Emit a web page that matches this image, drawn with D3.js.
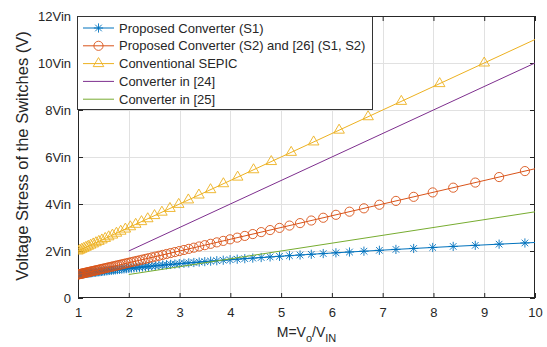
<!DOCTYPE html>
<html><head><meta charset="utf-8">
<script src="https://cdn.jsdelivr.net/npm/d3@7"></script>
<style>
body{margin:0;background:#fff}
svg{display:block}
text{font-family:Arial,"Liberation Sans",Helvetica,sans-serif;fill:#262626}
</style>
</head><body>
<svg id="c" width="547" height="347"></svg>
<script>
// ---------- data ----------
const mSamples = [1.0000,1.0175,1.0354,1.0538,1.0727,1.0921,1.1120,1.1325,1.1535,1.1752,
  1.1974,1.2203,1.2439,1.2681,1.2931,1.3188,1.3453,1.3726,1.4007,1.4298,
  1.4597,1.4905,1.5224,1.5553,1.5892,1.6243,1.6606,1.6981,1.7369,1.7770,
  1.8185,1.8615,1.9061,1.9522,2.0001,2.0497,2.1013,2.1547,2.2103,2.2680,
  2.3280,2.3905,2.4554,2.5231,2.5936,2.6671,2.7437,2.8237,2.9073,2.9947,
  3.0860,3.1815,3.2816,3.3865,3.4965,3.6119,3.7332,3.8606,3.9947,4.1359,
  4.2847,4.4418,4.6076,4.7828,4.9683,5.1647,5.3731,5.5942,5.8294,6.0797,
  6.3464,6.6311,6.9354,7.2612,7.6104,7.9854,8.3890,8.8238,9.2933,9.8014];
const s1Values = [1.000,1.005,1.011,1.017,1.022,1.028,1.034,1.040,1.047,1.053,
  1.059,1.066,1.073,1.079,1.086,1.093,1.101,1.108,1.116,1.123,
  1.131,1.139,1.147,1.156,1.164,1.173,1.182,1.191,1.200,1.210,
  1.220,1.230,1.240,1.250,1.261,1.272,1.283,1.295,1.307,1.319,
  1.331,1.344,1.357,1.371,1.385,1.399,1.414,1.429,1.444,1.460,
  1.477,1.494,1.511,1.529,1.548,1.567,1.587,1.608,1.629,1.651,
  1.674,1.698,1.722,1.748,1.774,1.802,1.830,1.860,1.891,1.923,
  1.957,1.992,2.029,2.068,2.108,2.150,2.195,2.241,2.291,2.342];
const s2Values = [1.000,1.009,1.018,1.027,1.036,1.046,1.056,1.066,1.077,1.088,
  1.099,1.110,1.122,1.134,1.147,1.159,1.173,1.186,1.200,1.215,
  1.230,1.245,1.261,1.278,1.295,1.312,1.330,1.349,1.368,1.389,
  1.409,1.431,1.453,1.476,1.500,1.525,1.551,1.577,1.605,1.634,
  1.664,1.695,1.728,1.762,1.797,1.834,1.872,1.912,1.954,1.997,
  2.043,2.091,2.141,2.193,2.248,2.306,2.367,2.430,2.497,2.568,
  2.642,2.721,2.804,2.891,2.984,3.082,3.187,3.297,3.415,3.540,
  3.673,3.816,3.968,4.131,4.305,4.493,4.695,4.912,5.147,5.401];
const sepicM = [1.0000,1.0360,1.0740,1.1142,1.1566,1.2016,1.2491,1.2996,1.3532,1.4102,
  1.4708,1.5354,1.6044,1.6782,1.7572,1.8418,1.9328,2.0306,2.1361,2.2500,
  2.3733,2.5069,2.6522,2.8106,2.9835,3.1729,3.3809,3.6100,3.8633,4.1441,
  4.4568,4.8062,5.1984,5.6406,6.1418,6.7128,7.3673,8.1225,9.0000];
const sepicValues = [2.000,2.036,2.074,2.114,2.157,2.202,2.249,2.300,2.353,2.410,
  2.471,2.535,2.604,2.678,2.757,2.842,2.933,3.031,3.136,3.250,
  3.373,3.507,3.652,3.811,3.984,4.173,4.381,4.610,4.863,5.144,
  5.457,5.806,6.198,6.641,7.142,7.713,8.367,9.123,10.000];
const lineEndM = [1, 10];
const s1EndValue = 2.362;
const s2LineValues = [1, 5.5];
const sepicLineValues = [2, 11];
const ref24M = [2, 10];
const ref24Values = [2, 10];
const ref25M = [2, 10];
const ref25Values = [1, 3.667];
const xTicks = [1,2,3,4,5,6,7,8,9,10];
const yTicks = [0,2,4,6,8,10,12];
const yTickLabels = ["0","2Vin","4Vin","6Vin","8Vin","10Vin","12Vin"];
const legendLabels = ["Proposed Converter (S1)","Proposed Converter (S2) and [26] (S1, S2)",
  "Conventional SEPIC","Converter in [24]","Converter in [25]"];
const colors = ["#0072BD","#D95319","#EDB120","#7E2F8E","#77AC30"];
const markers = ["star","circle","triangle",null,null];

// ---------- layout ----------
const L = 78, R = 535, T = 16, B = 298;
const svg = d3.select("#c");
const x = d3.scaleLinear().domain([1,10]).range([L,R]);
const y = d3.scaleLinear().domain([0,12]).range([B,T]);

// grid
const grid = svg.append("g").attr("stroke","#e1e1e1").attr("stroke-width",1);
grid.selectAll("line.gx").data(xTicks.slice(1,-1)).join("line")
  .attr("x1",d=>Math.round(x(d))+0.5).attr("x2",d=>Math.round(x(d))+0.5).attr("y1",T).attr("y2",B);
grid.selectAll("line.gy").data(yTicks.slice(1,-1)).join("line")
  .attr("y1",d=>Math.round(y(d))+0.5).attr("y2",d=>Math.round(y(d))+0.5).attr("x1",L).attr("x2",R);

// axes
const fmtY = d=>yTickLabels[yTicks.indexOf(d)];
const ax = svg.append("g").attr("transform",`translate(0,${B})`)
  .call(d3.axisBottom(x).tickValues(xTicks).tickSize(-5).tickPadding(10).tickFormat(d3.format("d")));
const ay = svg.append("g").attr("transform",`translate(${L},0)`)
  .call(d3.axisLeft(y).tickValues(yTicks).tickSize(-5).tickPadding(7).tickFormat(fmtY));
const axT = svg.append("g").attr("transform",`translate(0,${T})`)
  .call(d3.axisTop(x).tickValues(xTicks).tickSize(-5).tickFormat(""));
const ayR = svg.append("g").attr("transform",`translate(${R},0)`)
  .call(d3.axisRight(y).tickValues(yTicks).tickSize(-5).tickFormat(""));
[ax,ay,axT,ayR].forEach(g=>{
  g.select(".domain").remove();
  g.selectAll(".tick line").attr("stroke","#262626");
  g.selectAll("text").attr("font-size",13).attr("fill","#262626").attr("font-family",null);
});
svg.append("rect").attr("x",L+0.5).attr("y",T+0.5).attr("width",R-L-1).attr("height",B-T-1)
  .attr("fill","none").attr("stroke","#262626").attr("stroke-width",1);

// clip
svg.append("clipPath").attr("id","clip").append("rect").attr("x",L).attr("y",T).attr("width",R-L).attr("height",B-T);
const plot = svg.append("g").attr("clip-path","url(#clip)");

const markerPath = {
  star: "M-4.6,0L4.6,0M0,-4.6L0,4.6M-3.3,-3.3L3.3,3.3M-3.3,3.3L3.3,-3.3",
  circle: d3.symbol(d3.symbolCircle, 66)(),
  triangle: "M0,-6L5.3,3L-5.3,3Z"
};
const line = d3.line().x(d=>x(d[0])).y(d=>y(d[1]));

const series = [
  {line: mSamples.map((m,i)=>[m,s1Values[i]]).concat([[lineEndM[1], s1EndValue]]),
   pts: mSamples.map((m,i)=>[m,s1Values[i]])},
  {line: lineEndM.map((m,i)=>[m,s2LineValues[i]]), pts: mSamples.map((m,i)=>[m,s2Values[i]])},
  {line: lineEndM.map((m,i)=>[m,sepicLineValues[i]]), pts: sepicM.map((m,i)=>[m,sepicValues[i]])},
  {line: ref24M.map((m,i)=>[m,ref24Values[i]]), pts: []},
  {line: ref25M.map((m,i)=>[m,ref25Values[i]]), pts: []}
];
series.forEach((s,k)=>{
  const g = plot.append("g");
  g.append("path").attr("d",line(s.line)).attr("fill","none").attr("stroke",colors[k]).attr("stroke-width",1);
  if (markers[k]) {
    g.selectAll("path.m").data(s.pts).join("path").attr("class","m")
      .attr("transform",d=>`translate(${x(d[0])},${y(d[1])})`)
      .attr("d",markerPath[markers[k]]).attr("fill","none")
      .attr("stroke",colors[k]).attr("stroke-width",0.9);
  }
});

// legend
const lg = svg.append("g");
lg.append("rect").attr("x",77.5).attr("y",16.5).attr("width",295).attr("height",93)
  .attr("fill","#fff").attr("stroke","#333").attr("stroke-width",1);
legendLabels.forEach((lab,k)=>{
  const cy = 28 + k*17.8;
  lg.append("line").attr("x1",83).attr("x2",114).attr("y1",cy).attr("y2",cy)
    .attr("stroke",colors[k]).attr("stroke-width",1);
  if (markers[k]) lg.append("path").attr("transform",`translate(98.5,${cy})`)
    .attr("d",markerPath[markers[k]]).attr("fill","none").attr("stroke",colors[k]).attr("stroke-width",0.9);
  lg.append("text").attr("x",119).attr("y",cy).attr("dy","0.36em").attr("font-size",13).text(lab);
});

// axis labels
svg.append("text").attr("transform",`translate(22,${(T+B)/2 - 1}) rotate(-90)`)
  .attr("text-anchor","middle").attr("dy","0.35em").attr("font-size",16.5).text("Voltage Stress of the Switches (V)");
const xl = svg.append("text").attr("x",(L+R)/2).attr("y",337).attr("text-anchor","middle").attr("font-size",14);
xl.append("tspan").text("M=V");
xl.append("tspan").attr("font-size",11).attr("dy",5).text("o");
xl.append("tspan").attr("dy",-5).text("/V");
xl.append("tspan").attr("font-size",11).attr("dy",5).text("IN");
</script>
</body></html>
